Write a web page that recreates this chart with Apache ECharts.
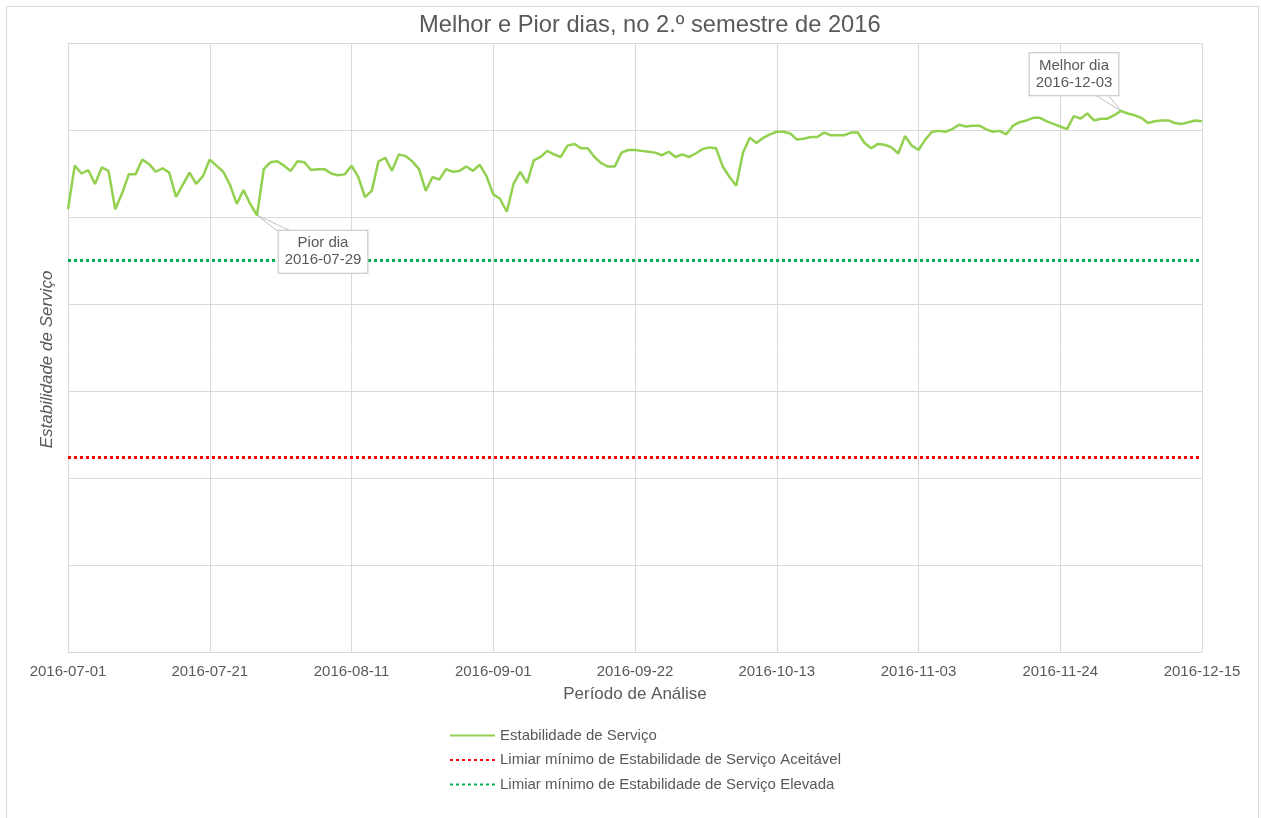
<!DOCTYPE html>
<html>
<head>
<meta charset="utf-8">
<title>Melhor e Pior dias</title>
<script src="https://cdn.jsdelivr.net/npm/echarts@6/dist/echarts.min.js"></script>
<style>
  html, body { margin: 0; padding: 0; background: #fff; }
  #frame { position: absolute; left: 6px; top: 6px; width: 1253px; height: 830px; border: 1px solid #d9d9d9; box-sizing: border-box; }
  #chart { position: absolute; left: 0; top: 0; width: 1261px; height: 818px; }
</style>
</head>
<body>
<div id="frame"></div>
<div id="chart"></div>
<script>
// daily values, 2016-07-01 .. 2016-12-15 (169 points)
const estabilidade = [
  50.9, 55.9, 55.0, 55.4, 53.8, 55.7, 55.3, 50.9, 52.7, 54.9,
  54.9, 56.6, 56.1, 55.2, 55.6, 55.1, 52.3, 53.7, 55.1, 53.8,
  54.7, 56.6, 55.9, 55.2, 53.7, 51.5, 53.1, 51.5, 50.2, 55.5,
  56.3, 56.4, 55.9, 55.3, 56.4, 56.3, 55.4, 55.5, 55.5, 55.0,
  54.8, 54.9, 55.9, 54.6, 52.3, 53.0, 56.4, 56.8, 55.3, 57.2,
  57.0, 56.4, 55.5, 53.0, 54.6, 54.3, 55.5, 55.2, 55.3, 55.8,
  55.3, 56.0, 54.7, 52.6, 52.1, 50.6, 53.8, 55.2, 53.9, 56.5,
  56.9, 57.6, 57.2, 56.9, 58.2, 58.4, 57.9, 57.9, 56.9, 56.2,
  55.8, 55.8, 57.4, 57.7, 57.7, 57.6, 57.5, 57.4, 57.1, 57.5,
  56.9, 57.2, 56.9, 57.3, 57.8, 58.0, 57.9, 55.8, 54.6, 53.6,
  57.4, 59.1, 58.5, 59.1, 59.5, 59.8, 59.8, 59.6, 58.9, 59.0,
  59.2, 59.2, 59.7, 59.4, 59.4, 59.4, 59.7, 59.7, 58.5, 57.9,
  58.4, 58.3, 58.0, 57.3, 59.3, 58.2, 57.7, 58.9, 59.8, 59.9,
  59.8, 60.1, 60.6, 60.4, 60.5, 60.5, 60.1, 59.8, 59.9, 59.5,
  60.5, 60.9, 61.1, 61.4, 61.4, 61.0, 60.7, 60.4, 60.1, 61.6,
  61.3, 61.9, 61.1, 61.3, 61.3, 61.7, 62.2, 61.9, 61.7, 61.4,
  60.8, 61.0, 61.1, 61.1, 60.8, 60.7, 60.9, 61.1, 61.0
]
const tickLabels = ['2016-07-01', '2016-07-21', '2016-08-11', '2016-09-01', '2016-09-22',
  '2016-10-13', '2016-11-03', '2016-11-24', '2016-12-15']
const limiarAceitavel = 22.4
const limiarElevado = 45
const piorDia = '2016-07-29'
const melhorDia = '2016-12-03'

const cinza = '#595959'
const grelha = '#d9d9d9'
const fonte = 'Liberation Sans, Arial, sans-serif'

const categorias = []
const d0 = new Date(Date.UTC(2016, 6, 1))
for (let i = 0; i < estabilidade.length; i++) {
  const d = new Date(d0.getTime() + i * 86400000)
  categorias.push(d.toISOString().slice(0, 10))
}

const piorIdx = estabilidade.indexOf(Math.min(...estabilidade))
const melhorIdx = estabilidade.indexOf(Math.max(...estabilidade))

const caixa = {
  show: true,
  position: 'top',
  backgroundColor: '#fff',
  borderColor: '#bfbfbf',
  borderWidth: 1,
  padding: [4, 6],
  color: cinza,
  fontSize: 15,
  lineHeight: 17,
  fontFamily: fonte
}

const serieData = estabilidade.map((v, i) => {
  if (i === piorIdx) {
    return { value: v, symbol: 'circle', symbolSize: 1, label: { ...caixa, formatter: 'Pior dia\n' + piorDia } }
  }
  if (i === melhorIdx) {
    return { value: v, symbol: 'circle', symbolSize: 1, label: { ...caixa, formatter: 'Melhor dia\n' + melhorDia } }
  }
  return v
})

// wedge of each callout: two lines from the point to the box edge
const piorPt = { coord: [piorIdx, estabilidade[piorIdx]] }
const melhorPt = { coord: [melhorIdx, estabilidade[melhorIdx]] }
const callouts = [
  [piorPt, { coord: [piorIdx + 3, 48.4] }],
  [piorPt, { coord: [piorIdx + 5, 48.4] }],
  [melhorPt, { coord: [melhorIdx - 4, 64.1] }],
  [melhorPt, { coord: [melhorIdx - 2, 64.1] }]
]

const chart = echarts.init(document.getElementById('chart'))
const option = {
  animation: false,
  textStyle: { fontFamily: fonte, color: cinza },
  title: {
    text: 'Melhor e Pior dias, no 2.º semestre de 2016',
    left: 414,
    top: 8,
    textStyle: { fontSize: 23.7, fontWeight: 'normal', color: cinza, fontFamily: fonte }
  },
  grid: { left: 68, right: 59, top: 43, bottom: 166 },
  legend: {
    orient: 'vertical',
    left: 444,
    top: 723,
    itemWidth: 45,
    itemHeight: 14,
    itemGap: 9.5,
    itemStyle: { opacity: 0 },
    textStyle: { fontSize: 15, color: cinza },
    data: [
      'Estabilidade de Serviço',
      'Limiar mínimo de Estabilidade de Serviço Aceitável',
      'Limiar mínimo de Estabilidade de Serviço Elevada'
    ]
  },
  xAxis: {
    type: 'category',
    boundaryGap: false,
    data: categorias,
    name: 'Período de Análise',
    nameLocation: 'middle',
    nameGap: 34,
    nameTextStyle: { fontSize: 17, color: cinza },
    axisLine: { lineStyle: { color: grelha } },
    axisTick: { show: false },
    axisLabel: {
      interval: 20,
      margin: 12,
      fontSize: 15,
      color: cinza,
      formatter: (val, idx) => (idx % 21 === 0 ? tickLabels[idx / 21] : '')
    },
    splitLine: { show: true, interval: 20, lineStyle: { color: grelha } }
  },
  yAxis: {
    type: 'value',
    min: 0,
    max: 70,
    interval: 10,
    name: 'Estabilidade de Serviço',
    nameLocation: 'middle',
    nameGap: 12,
    nameTextStyle: { fontSize: 17, fontStyle: 'italic', color: cinza, padding: [0, 24, 0, 0] },
    axisLine: { show: false },
    axisTick: { show: false },
    axisLabel: { show: false },
    splitLine: { lineStyle: { color: grelha } }
  },
  series: [
    {
      name: 'Estabilidade de Serviço',
      type: 'line',
      z: 5,
      data: serieData,
      symbol: 'none',
      showSymbol: true,
      showAllSymbol: true,
      lineStyle: { color: '#92d050', width: 2.5 },
      itemStyle: { color: '#92d050' },
      labelLayout: params => {
        if (params.dataIndex === piorIdx) return { dx: 66, dy: 63 }
        if (params.dataIndex === melhorIdx) return { dx: -47, dy: -10 }
        return {}
      },
      markLine: {
        silent: true,
        symbol: 'none',
        label: { show: false },
        lineStyle: { color: '#bfbfbf', width: 1, type: 'solid' },
        data: callouts
      }
    },
    {
      name: 'Limiar mínimo de Estabilidade de Serviço Aceitável',
      type: 'line',
      z: 1,
      data: [],
      symbol: 'none',
      lineStyle: { color: '#ff0000', width: 3, type: [3, 3] },
      itemStyle: { color: '#ff0000' },
      markLine: {
        silent: true,
        symbol: 'none',
        label: { show: false },
        lineStyle: { color: '#ff0000', width: 3, type: [3, 3] },
        data: [{ yAxis: limiarAceitavel }]
      }
    },
    {
      name: 'Limiar mínimo de Estabilidade de Serviço Elevada',
      type: 'line',
      z: 1,
      data: [],
      symbol: 'none',
      lineStyle: { color: '#00b050', width: 3, type: [3, 3] },
      itemStyle: { color: '#00b050' },
      markLine: {
        silent: true,
        symbol: 'none',
        label: { show: false },
        lineStyle: { color: '#00b050', width: 3, type: [3, 3] },
        data: [{ yAxis: limiarElevado }]
      }
    }
  ]
}
chart.setOption(option)
</script>
</body>
</html>
